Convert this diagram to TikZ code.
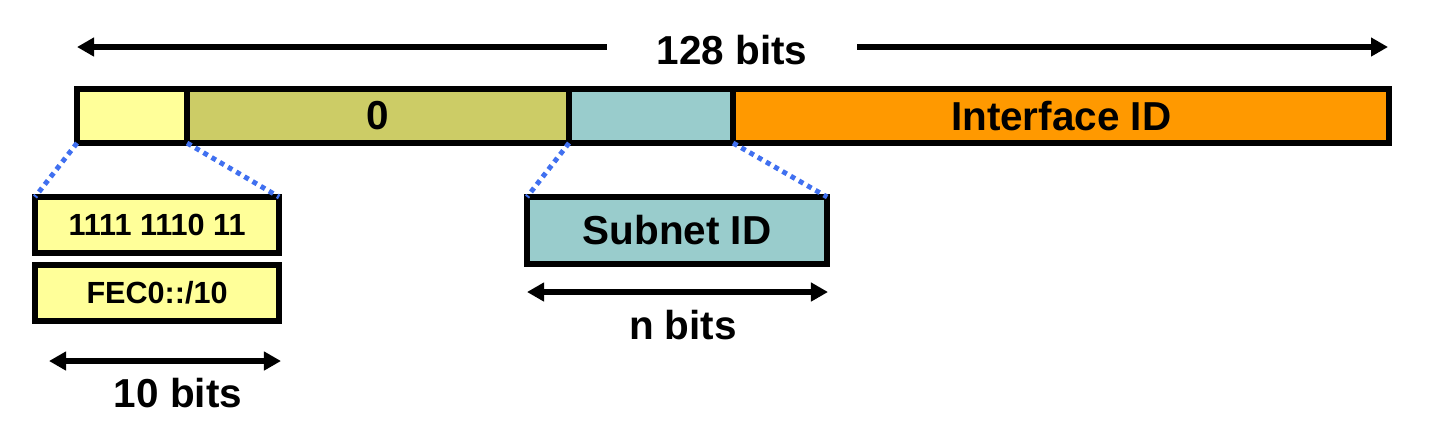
\documentclass[tikz,border=0pt]{standalone}
\usepackage{fontspec}
\setmainfont{Liberation Sans}
\usetikzlibrary{arrows.meta}
\definecolor{pfxyellow}{RGB}{255,255,153}
\definecolor{zeroolive}{RGB}{204,204,102}
\definecolor{subteal}{RGB}{153,204,204}
\definecolor{ifcorange}{RGB}{255,153,0}
\definecolor{dotblue}{RGB}{64,112,240}

\begin{document}
\begin{tikzpicture}[x=0.01cm,y=-0.01cm,
  field/.style={draw,line width=1.7pt,inner sep=0pt,outer sep=0pt,anchor=north west,font=\bfseries\fontsize{11.5}{13}\selectfont},
  smallfield/.style={field,font=\bfseries\fontsize{8.7}{10}\selectfont},
  lbl/.style={font=\bfseries\fontsize{11.5}{13}\selectfont},
  dimarrow/.style={line width=1.7pt,{Triangle[length=0.17cm,width=0.18cm]}-{Triangle[length=0.17cm,width=0.18cm]}},
  halfarrow/.style={line width=1.7pt,-{Triangle[length=0.17cm,width=0.18cm]}},
  zoomline/.style={dotblue,line width=1.4pt,dash pattern=on 1.4pt off 1.3pt}]
\useasboundingbox (0,0) rectangle (1436,438);
% the 128 bit address
\node[field,fill=pfxyellow,minimum width=1.1cm,minimum height=0.54cm] (pfx) at (77,89) {};
\node[field,fill=zeroolive,minimum width=3.82cm,minimum height=0.54cm] (zero) at (187,89) {0};
\node[field,fill=subteal,minimum width=1.64cm,minimum height=0.54cm] (sub) at (569,89) {};
\node[field,fill=ifcorange,minimum width=6.56cm,minimum height=0.54cm] (ifc) at (733,89) {Interface ID};
\node[lbl,inner xsep=0.49cm] (total) at (732,50) {128 bits};
\coordinate (tl) at (77,47); \coordinate (tr) at (1388,47);
\draw[halfarrow] (total.west |- tl) -- (tl);
\draw[halfarrow] (total.east |- tr) -- (tr);
% prefix detail
\node[smallfield,fill=pfxyellow,minimum width=2.44cm,minimum height=0.56cm] (bin) at (35,197) {1111 1110 11};
\node[smallfield,fill=pfxyellow,minimum width=2.44cm,minimum height=0.56cm] (hex) at (35,265) {FEC0::/10};
\draw[zoomline] (pfx.south west) -- (bin.north west);
\draw[zoomline] (pfx.south east) -- (bin.north east);
\coordinate (pl) at (49,361); \coordinate (pr) at (281,361);
\draw[dimarrow] (pl) -- (pr);
\node[lbl] (tenbits) at (178,393) {10 bits};
% subnet detail
\node[field,fill=subteal,minimum width=3.0cm,minimum height=0.67cm] (subbox) at (527,197) {Subnet ID};
\draw[zoomline] (sub.south west) -- (subbox.north west);
\draw[zoomline] (sub.south east) -- (subbox.north east);
\coordinate (sl) at (527,292); \coordinate (sr) at (828,292);
\draw[dimarrow] (sl) -- (sr);
\node[lbl] (nbits) at (683,325) {n bits};
\end{tikzpicture}
\end{document}
